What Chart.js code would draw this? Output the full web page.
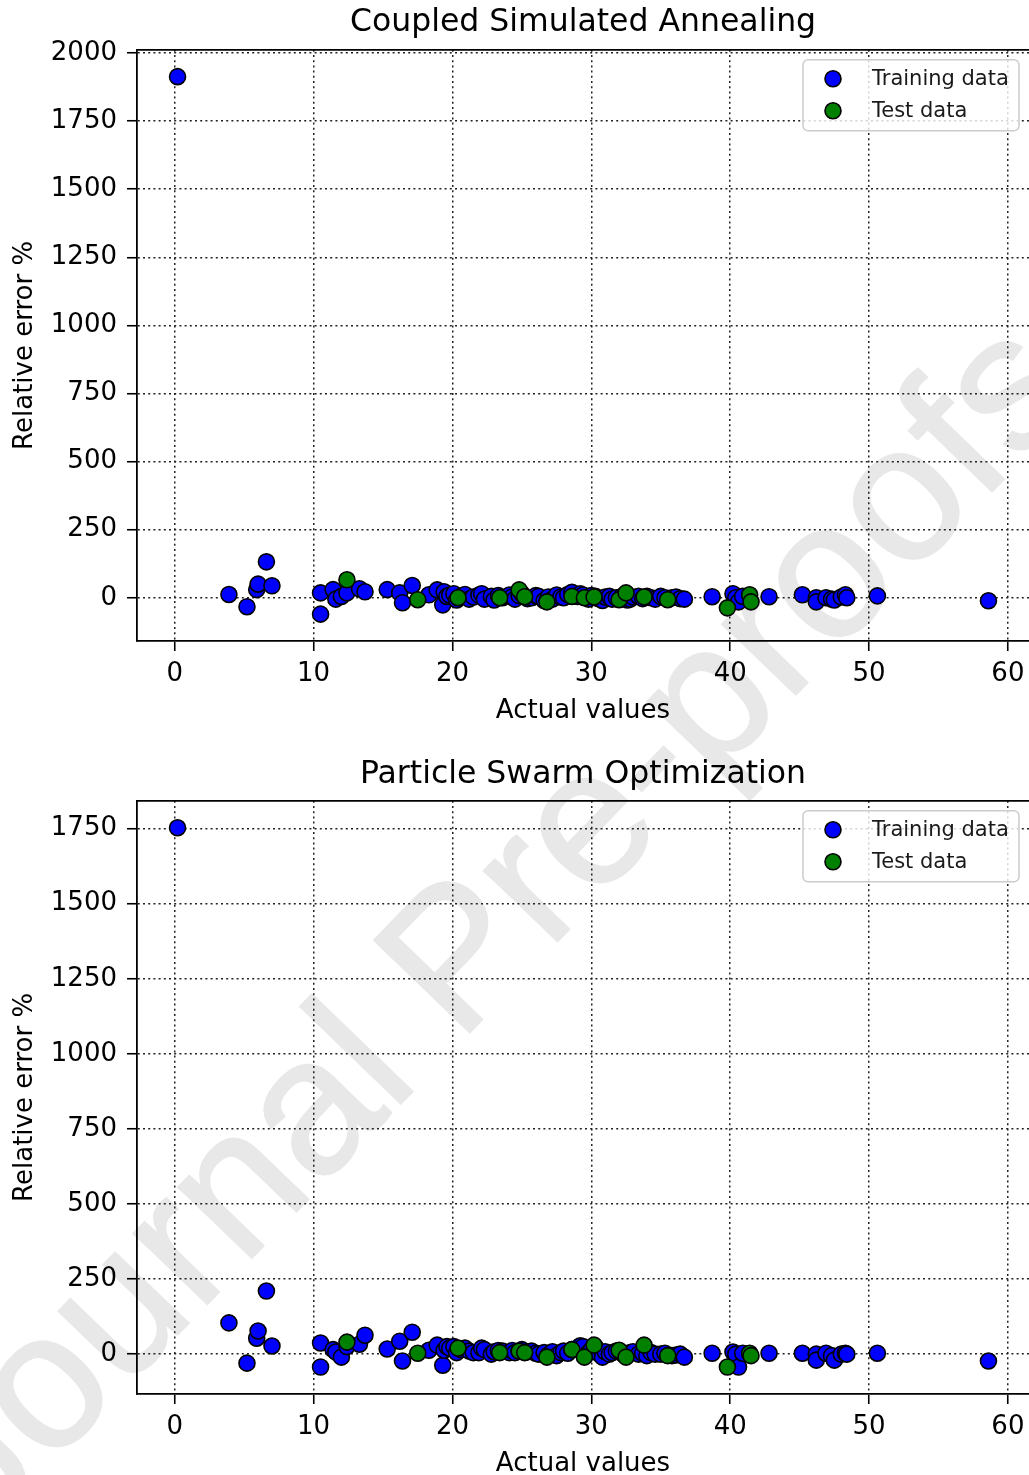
<!DOCTYPE html>
<html>
<head>
<meta charset="utf-8">
<title>Relative error vs actual values</title>
<script src="https://cdn.jsdelivr.net/npm/chart.js@4.4.1/dist/chart.umd.min.js"></script>
<style>
    html, body { margin: 0; padding: 0; overflow: hidden; background: #fff; }
    #page { position: relative; width: 1029px; height: 1475px; overflow: hidden; }
    #stamp {
        position: absolute; left: 485px; top: 920px;
        transform: translate(-50%, -50%) rotate(-46deg);
        font-family: "Liberation Sans", Arial, sans-serif;
        font-size: 193px; color: #e8e8e8; white-space: nowrap;
        -webkit-text-stroke: 2px #e8e8e8;
        z-index: 0;
    }
    canvas { position: absolute; left: 0; z-index: 1; }
    #csaChart { top: 0; }
    #psoChart { top: 737px; }
</style>
</head>
<body>
<div id="page">
    <div id="stamp">Journal Pre-proofs</div>
    <canvas id="csaChart" width="1029" height="737"></canvas>
    <canvas id="psoChart" width="1029" height="753"></canvas>
</div>
<script>
// Training samples: actual value and relative error (%) for each optimiser
const trainActual = [
    0.2, 3.9, 5.2, 5.9, 6.0, 6.6, 7.0, 10.5, 10.5, 11.4,
    11.6, 12.0, 12.4, 13.3, 13.7, 15.3, 16.2, 16.4, 17.1, 18.3,
    18.9, 19.3, 19.4, 19.6, 19.8, 20.1, 20.3, 20.6, 20.9, 21.2,
    21.5, 21.9, 22.1, 22.3, 22.8, 23.0, 23.3, 23.6, 24.1, 24.3,
    24.5, 24.8, 25.0, 25.4, 25.7, 26.0, 26.2, 26.6, 26.9, 27.2,
    27.5, 27.8, 28.0, 28.3, 28.6, 29.0, 29.2, 29.4, 29.8, 30.0,
    30.3, 30.5, 30.8, 31.0, 31.3, 31.5, 31.8, 32.2, 32.6, 32.8,
    33.0, 33.4, 33.7, 34.0, 34.3, 34.6, 35.0, 35.3, 35.8, 36.1,
    36.4, 36.7, 38.7, 40.2, 40.4, 40.6, 40.9, 42.8, 45.2, 46.2,
    46.2, 46.9, 47.3, 47.5, 48.0, 48.3, 48.4, 50.6, 58.6
];
const csaTrainError = [
    1913, 12, -33, 30, 50, 132, 44, 18, -60, 30,
    -5, 5, 18, 33, 22, 30, 18, -18, 45, 11,
    29, -26, 22, 5, 10, 15, -8, 5, 12, -5,
    3, 10, 15, -5, 5, -8, 8, 0, 10, 3,
    -5, 8, 15, -3, 0, 8, 5, -10, 3, -5,
    10, 3, 0, 12, 20, 5, 15, 10, -5, 8,
    5, -3, -10, 3, 5, -5, 0, 5, -8, -5,
    3, 5, -3, 5, 0, -5, 5, 0, 0, 3,
    -3, -5, 4, 15, 0, -15, 5, 4, 11, 0,
    -15, 0, -5, -8, 3, 11, 0, 7, -11
];
const psoTrainError = [
    1753, 104, -30, 53, 77, 210, 27, 37, -43, 15,
    7, -10, 25, 33, 63, 17, 43, -23, 73, 13,
    30, -37, 13, 25, 20, 25, 5, 15, 20, 10,
    5, 5, 20, 15, 0, 8, 12, 10, 5, 12,
    5, 10, 15, 8, 10, 3, 0, 5, -3, 8,
    -5, 5, 10, 3, 15, 20, 28, 25, 5, 15,
    23, 3, -10, 8, 0, 5, 10, 3, -3, 5,
    8, 0, 3, -5, 5, 0, 0, 3, -5, -3,
    0, -10, 3, 7, 0, -43, 3, 3, 3, 0,
    -20, 3, -5, -20, 0, 3, 0, 3, -23
];

// Test samples
const testActual = [12.4, 17.5, 20.4, 23.4, 24.8, 25.2, 26.8, 28.6, 29.5, 30.2, 32.0, 32.5, 33.8, 35.5, 39.8, 41.4, 41.5];
const csaTestError = [66, -7, 0, 0, 29, 4, -15, 5, 0, 3, -7, 18, 3, -7, -37, 11, -15];
const psoTestError = [40, 3, 20, 5, 10, 5, -10, 15, -10, 30, 13, -10, 30, -5, -43, 3, -5];

const xTicks = [0, 10, 20, 30, 40, 50, 60];
const csaYTicks = [0, 250, 500, 750, 1000, 1250, 1500, 1750, 2000];
const psoYTicks = [0, 250, 500, 750, 1000, 1250, 1500, 1750];

const FONT = '"DejaVu Sans", sans-serif';

function toPoints(xs, ys) {
    return xs.map((x, i) => ({ x: x, y: ys[i] }));
}

// pad the data range by 5% on each side
function paddedRange(values) {
    const lo = Math.min(...values), hi = Math.max(...values);
    const pad = (hi - lo) * 0.05;
    return [lo - pad, hi + pad];
}

// top spine plus a boxed legend in the upper right corner of the plot
const boxLegend = {
    id: 'boxLegend',
    afterDraw(chart) {
        const { ctx, chartArea } = chart;
        const w = 216, h = 71;
        const x = chartArea.right - 10 - w, y = chartArea.top + 10;

        ctx.save();
        ctx.strokeStyle = '#000';
        ctx.lineWidth = 1.8;
        ctx.beginPath();
        ctx.moveTo(chartArea.left, chartArea.top);
        ctx.lineTo(chartArea.right, chartArea.top);
        ctx.stroke();

        ctx.fillStyle = 'rgba(255,255,255,0.8)';
        ctx.strokeStyle = '#cccccc';
        ctx.lineWidth = 1.5;
        ctx.beginPath();
        ctx.roundRect(x, y, w, h, 5);
        ctx.fill();
        ctx.stroke();

        ctx.font = '21px ' + FONT;
        ctx.textBaseline = 'middle';
        chart.data.datasets.forEach((ds, i) => {
            const cy = y + 19 + i * 32;
            ctx.beginPath();
            ctx.arc(x + 30, cy, 8, 0, Math.PI * 2);
            ctx.fillStyle = ds.backgroundColor;
            ctx.fill();
            ctx.strokeStyle = '#000';
            ctx.lineWidth = 1.6;
            ctx.stroke();
            ctx.fillStyle = '#1a1a1a';
            ctx.fillText(ds.label, x + 69, cy + 1);
        });
        ctx.restore();
    }
};

function makeChart(id, title, trainErr, testErr, yTicks, titlePad) {
    const xRange = paddedRange(trainActual.concat(testActual));
    const yRange = paddedRange(trainErr.concat(testErr));

    const grid = {
        color: '#222',
        lineWidth: 1.5,
        drawTicks: true,
        tickLength: 10,
        tickColor: '#000',
        tickWidth: 1.6,
        tickBorderDash: []
    };
    const border = { display: true, color: '#000', width: 1.8, dash: [2, 3.2] };
    const plain = v => String(v);

    return new Chart(document.getElementById(id), {
        type: 'scatter',
        data: {
            datasets: [
                {
                    label: 'Training data',
                    data: toPoints(trainActual, trainErr),
                    backgroundColor: '#0000ff',
                    borderColor: '#000',
                    borderWidth: 1.6,
                    pointRadius: 8,
                    order: 1
                },
                {
                    label: 'Test data',
                    data: toPoints(testActual, testErr),
                    backgroundColor: '#008000',
                    borderColor: '#000',
                    borderWidth: 1.6,
                    pointRadius: 8,
                    order: 0
                }
            ]
        },
        options: {
            responsive: false,
            animation: false,
            events: [],
            layout: { padding: 0, autoPadding: false },
            plugins: {
                legend: { display: false },
                tooltip: { enabled: false },
                title: {
                    display: true,
                    fullSize: false,
                    text: title,
                    color: '#000',
                    font: { family: FONT, size: 31.5, weight: 'normal' },
                    padding: titlePad
                }
            },
            scales: {
                x: {
                    type: 'linear',
                    min: xRange[0],
                    max: xRange[1],
                    z: 1,
                    afterBuildTicks: s => { s.ticks = xTicks.map(v => ({ value: v })); },
                    afterFit: s => { s.height = 96; s.paddingLeft = 0; s.paddingRight = 0; },
                    grid: grid,
                    border: border,
                    ticks: { color: '#000', padding: 8, maxRotation: 0, callback: plain, font: { family: FONT, size: 26 } },
                    title: {
                        display: true,
                        text: 'Actual values',
                        color: '#000',
                        font: { family: FONT, size: 26 },
                        padding: { top: 0, bottom: 10 }
                    }
                },
                y: {
                    type: 'linear',
                    min: yRange[0],
                    max: yRange[1],
                    z: 1,
                    afterBuildTicks: s => { s.ticks = yTicks.map(v => ({ value: v })); },
                    afterFit: s => { s.width = 137; },
                    grid: grid,
                    border: border,
                    ticks: { color: '#000', padding: 10, callback: plain, font: { family: FONT, size: 26 } },
                    title: {
                        display: true,
                        text: 'Relative error %',
                        color: '#000',
                        font: { family: FONT, size: 26 },
                        padding: { top: 10, bottom: 0 }
                    }
                }
            }
        },
        plugins: [boxLegend]
    });
}

makeChart('csaChart', 'Coupled Simulated Annealing', csaTrainError, csaTestError, csaYTicks,
    { top: 4, bottom: 8 });
makeChart('psoChart', 'Particle Swarm Optimization', psoTrainError, psoTestError, psoYTicks,
    { top: 19, bottom: 7 });
</script>
</body>
</html>
